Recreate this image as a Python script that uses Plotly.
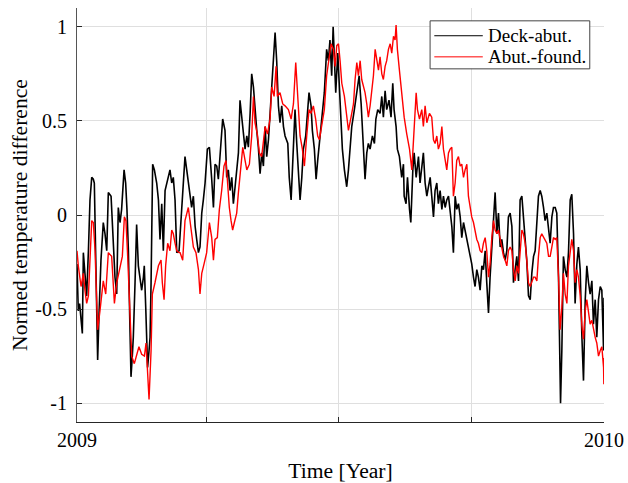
import pandas as pd
import plotly.graph_objects as go

# ---- data (days since 2009-01-01, normed temperature difference) ----
deck_days = [0, 0.9, 1.8, 2.8, 3.7, 4.4, 5.5, 6.7, 7.9, 9.0, 10.2, 11.3, 12.0, 12.9, 13.6, 14.3, 15.2, 16.6,
             18.2, 19.4, 20.6, 21.7, 23.6, 25.2, 26.3, 27.5, 28.6, 29.8, 30.9, 32.6, 33.7, 34.6, 35.6, 36.5,
             37.4, 38.3, 39.0, 40.2, 41.3, 42.5, 43.6, 44.8, 46.0, 46.6, 47.6, 48.9, 49.9, 50.6, 51.3, 52.4,
             53.6, 55.2, 56.4, 57.5, 58.7, 59.8, 61.0, 62.8, 64.4, 65.6, 66.7, 67.9, 69.1, 70.7,
             73.7, 74.8, 76.0, 77.8, 79.4, 80.6, 81.8, 82.9, 84.1, 85.2, 86.4, 87.5, 88.7, 90.3, 91.7, 93.3,
             94.5, 95.6, 96.8, 97.9, 99.1, 100.9, 102.5, 103.7, 104.8, 106.0, 107.2, 108.3, 109.5, 110.6,
             111.8, 112.9, 114.1, 115.2, 116.4, 117.6, 118.7, 119.9, 121.0, 122.2, 123.3, 124.5, 125.6,
             126.8, 128.0, 129.1, 130.3, 131.4, 132.6, 133.7, 134.9, 136.0, 137.2, 138.3, 139.5, 140.6,
             141.8, 143.0, 144.1, 146.0, 147.0, 148.3, 149.9, 151.0, 152.2, 153.3, 154.5, 155.7, 156.8,
             158.4, 159.8, 160.7, 162.1, 163.0, 164.4, 165.6, 166.7, 168.3, 169.9, 171.3, 172.9, 174.1,
             175.2, 176.4, 177.4, 178.3, 179.2, 180.6, 181.8, 182.9, 183.8, 185.2, 186.8, 188.0, 189.1,
             190.3, 192.1, 193.8, 195.4, 196.8, 197.7, 198.6, 199.5, 200.7, 201.8, 203.0, 204.6, 206.0,
             207.0, 208.3, 209.9, 211.1, 212.2, 213.4, 214.5, 216.1, 217.5, 218.7, 219.6, 221.0, 221.9,
             223.3, 224.9, 226.1, 226.6, 227.9, 228.9, 230.3, 231.2, 232.6, 233.5, 234.9, 236.5, 237.6,
             239.0, 239.9, 241.1, 242.3, 243.4, 244.6, 245.7, 246.9, 248.0, 249.2, 250.3, 251.5, 252.7,
             253.8, 255.0, 256.1, 257.3, 258.4, 259.6, 260.7, 261.9, 263.0, 264.2, 265.4, 266.5, 267.7,
             268.8, 270.4, 271.8, 273.4, 274.6, 275.7, 276.9, 278.0, 279.2, 280.4, 281.5, 282.7, 283.8,
             285.0, 286.1, 287.3, 289.6, 290.8, 291.9, 293.1, 294.2, 295.4, 296.5, 297.7, 298.8, 300.0,
             301.2, 302.3, 303.5, 304.6, 305.8, 306.9, 308.1, 309.2, 310.4, 311.5, 312.7, 313.9, 315.0,
             316.2, 317.3, 318.5, 319.6, 320.8, 321.9, 323.1, 324.2, 325.4, 326.6, 327.7, 328.9, 330.0,
             331.2, 332.3, 333.5, 334.2, 334.9, 335.8, 336.9, 338.1, 339.3, 340.4, 341.6, 342.7, 343.9,
             345.0, 346.2, 347.3, 348.5, 349.7, 350.8, 352.0, 353.1, 354.3, 355.4, 356.6, 357.7, 358.9,
             360.0, 361.2, 362.4, 363.5, 364.7, 365.0]
deck_vals = [-0.26, -0.51, -0.47, -0.58, -0.63, -0.20, -0.33, -0.43, -0.19, 0.08, 0.20, 0.19, 0.17, -0.19,
             -0.54, -0.77, -0.54, -0.24, -0.04, -0.10, -0.19, 0.12, 0.10, -0.19, -0.33, -0.42, 0.04, -0.04,
             0.03, 0.24, 0.17, 0.03, -0.19, -0.54, -0.86, -0.75, -0.65, -0.36, -0.05, -0.27, -0.33, -0.40,
             -0.33, -0.27, -0.49, -0.81, -0.72, -0.65, -0.36, 0.27, 0.24, 0.17, 0.08, -0.13, 0.06, -0.19,
             0.13, 0.19, 0.24, 0.17, 0.20, 0.08, -0.20, -0.19,
             0.19, 0.31, 0.24, 0.12, 0.04, 0.10, -0.06, -0.13, -0.20, -0.17, 0.01, 0.08, 0.17, 0.35, 0.36,
             0.19, 0.04, 0.27, 0.26, 0.19, 0.33, 0.51, 0.45, 0.20, 0.24, 0.13, 0.20, 0.06, 0.15, 0.24,
             0.33, 0.61, 0.52, 0.42, 0.35, 0.42, 0.36, 0.54, 0.75, 0.68, 0.54, 0.45, 0.36,
             0.22, 0.33, 0.26, 0.47, 0.31, 0.40, 0.54, 0.68, 0.82, 0.97, 0.82, 0.58, 0.49,
             0.58, 0.47, 0.42, 0.38, 0.20, 0.08, 0.38, 0.56, 0.38, 0.26, 0.08, 0.20, 0.35,
             0.42, 0.56, 0.65, 0.58, 0.45, 0.35, 0.19, 0.29, 0.42, 0.52, 0.65, 0.88, 0.82,
             0.93, 0.74, 1.00, 0.77, 0.65, 0.86, 0.65, 0.52, 0.35, 0.24, 0.15, 0.24, 0.35,
             0.47, 0.56, 0.65, 0.74, 0.59, 0.47, 0.29, 0.19, 0.33, 0.38, 0.35, 0.42, 0.38,
             0.51, 0.56, 0.54, 0.63, 0.52, 0.66, 0.56, 0.61, 0.52, 0.70, 0.56, 0.47, 0.35,
             0.31, 0.20, 0.27, 0.10, 0.06, 0.20, 0.03, -0.04, 0.24, 0.33, 0.20, 0.31, 0.17,
             0.29, 0.33, 0.17, 0.10, 0.15, 0.20, 0.10, -0.01, 0.13, 0.17, 0.06, 0.13, 0.03,
             0.10, 0.04, 0.08, 0.10, 0.03, -0.06, -0.20, 0.10, 0.03, 0.06, -0.01, -0.12, -0.04,
             -0.08, -0.15, -0.19, -0.26, -0.33, -0.38, -0.29, -0.33, -0.40, -0.27, -0.29, -0.19, -0.36,
             -0.52, -0.33, -0.15, 0.12, -0.10, 0.01, -0.17, -0.13, -0.20, -0.24, -0.19, -0.01, 0.01,
             -0.06, -0.36, -0.29, -0.22, -0.35, 0.08, 0.10, -0.01, -0.08, -0.24, -0.43, -0.45, -0.31,
             -0.22, -0.19, -0.03, 0.10, 0.13, 0.10, 0.04, -0.03, 0.01, -0.08, -0.15, -0.01, 0.04,
             0.04, 0.01, -0.33, -0.79, -1.00, -0.72, -0.22, -0.29, -0.33, -0.20, 0.08, 0.11, -0.10,
             -0.47, -0.26, -0.17, -0.29, -0.65, -0.88, -0.45, -0.27, -0.36, -0.42, -0.35, -0.58, -0.45,
             -0.65, -0.45, -0.38, -0.40, -0.72, -0.44]

abut_days = [0, 0.9, 2.8, 4.4, 5.5, 6.7, 7.9, 9.0, 10.2, 11.3, 12.5, 13.6, 14.3, 15.9, 18.2, 19.9, 21.7,
             24.0, 25.9, 27.5, 29.8, 31.4, 32.8, 33.9, 35.1, 36.7, 37.9, 39.7, 41.3, 42.9, 44.8, 46.7,
             47.8, 48.9, 49.9, 51.3, 52.2, 54.0, 56.4, 58.2, 59.1, 60.3, 61.4, 62.8, 64.4, 65.6, 66.7,
             67.9, 69.1, 70.7,
             71.4, 73.2, 74.8, 77.1, 78.3, 80.6, 82.4, 84.1, 85.2, 86.4, 88.0, 89.8, 91.7, 93.3, 94.5,
             95.6, 97.2, 98.6, 100.2, 101.8, 103.2, 104.3, 105.5, 106.7, 107.8, 109.0, 110.6, 111.8,
             113.4, 114.8, 116.4, 117.6, 119.4, 121.0, 122.2, 123.3, 124.9, 126.3, 127.9, 129.1, 130.3,
             131.9, 133.7, 134.9, 136.5, 137.9, 138.8, 140.6, 142.5,
             144.1, 146.4, 148.3, 149.9, 151.5, 152.9, 154.5, 156.1, 157.5, 159.1, 160.7, 162.1, 163.7,
             165.3, 166.7, 167.9, 169.5, 171.3, 172.9, 174.6, 176.0, 177.6, 178.8, 179.9, 181.1, 182.2,
             183.4, 185.2, 186.8, 188.0, 189.8, 191.5, 192.6, 193.8, 194.9, 196.1, 197.2, 198.4, 199.5,
             200.7, 201.8, 203.0, 204.2, 205.3, 206.5, 207.6, 208.8, 209.9, 211.1, 212.2, 213.4, 214.5,
             215.7, 216.9, 218.0, 219.2, 220.3,
             221.0, 221.9, 223.3, 224.9, 226.6, 228.4, 230.3, 231.9, 233.5, 234.9, 235.8, 237.2, 238.8,
             239.9, 241.1, 242.3, 244.1, 245.7, 246.9, 248.0, 249.2, 250.3, 251.5, 252.7, 253.8, 255.0,
             256.1, 257.3, 258.4, 259.6, 260.7, 261.9, 263.0, 264.2, 265.4, 266.5, 267.7, 268.8, 270.0,
             271.1, 272.3, 273.4, 274.6, 275.7, 276.9, 278.0, 279.2, 280.4, 281.5, 282.7, 283.8, 285.0,
             286.1, 287.3, 288.5,
             289.6, 290.8, 291.9, 293.1, 294.2, 295.4, 296.5, 297.7, 298.8, 300.0, 301.2, 302.3, 303.5,
             304.6, 305.8, 306.9, 308.1, 309.2, 310.4, 311.5, 312.7, 313.9, 315.0, 316.2, 317.3, 318.5,
             319.6, 320.8, 321.9, 323.1, 324.2, 325.4, 326.6, 327.7, 328.9, 330.0, 331.2, 332.3, 333.5,
             334.6, 335.8, 336.9, 338.1, 339.3, 340.4, 341.6, 342.7, 343.9, 345.0, 346.2, 347.3, 348.5,
             349.7, 350.8, 352.0, 353.1, 354.3, 355.4, 356.6, 357.7, 358.9, 360.0, 361.2, 362.4, 363.5,
             364.7, 364.9, 365.0]
abut_vals = [-0.19, -0.27, -0.38, -0.31, -0.40, -0.47, -0.43, -0.27, -0.03, -0.04, -0.19, -0.45, -0.61,
             -0.51, -0.35, -0.42, -0.20, -0.22, -0.47, -0.36, -0.27, -0.22, -0.01, -0.03, -0.22, -0.51,
             -0.75, -0.79, -0.74, -0.70, -0.74, -0.75, -0.68, -0.88, -0.98, -0.72, -0.42, -0.36, -0.27,
             -0.24, -0.36, -0.45, -0.27, -0.15, -0.19, -0.08, -0.10, -0.15, -0.19, -0.20,
             -0.20, -0.24, -0.03, 0.04, -0.03, -0.17, -0.20, -0.29, -0.42, -0.31, -0.26, -0.20, -0.04,
             -0.12, -0.24, -0.13, -0.12, 0.03, 0.13, 0.26, 0.29, 0.15, 0.04, -0.03, -0.08, -0.04, 0.01,
             0.12, 0.24, 0.36, 0.29, 0.24, 0.27, 0.42, 0.63, 0.49, 0.43, 0.33, 0.31, 0.40, 0.47, 0.43,
             0.51, 0.68, 0.63, 0.79, 0.63, 0.65, 0.59,
             0.58, 0.56, 0.51, 0.59, 0.81, 0.59, 0.42, 0.35, 0.26, 0.42, 0.56, 0.54, 0.58, 0.51, 0.42,
             0.40, 0.47, 0.56, 0.74, 0.84, 0.91, 0.88, 0.79, 0.90, 0.91, 0.82, 0.70, 0.63, 0.52, 0.45,
             0.52, 0.59, 0.72, 0.81, 0.74, 0.82, 0.72, 0.68, 0.65, 0.59, 0.52, 0.58, 0.65, 0.74, 0.88,
             0.82, 0.77, 0.84, 0.75, 0.72, 0.79, 0.82, 0.88, 0.91, 0.86, 0.95, 0.93,
             1.01, 0.88, 0.77, 0.65, 0.52, 0.43, 0.35, 0.24, 0.47, 0.65, 0.56, 0.51, 0.56, 0.47, 0.58,
             0.49, 0.54, 0.52, 0.40, 0.38, 0.42, 0.35, 0.38, 0.47, 0.35, 0.29, 0.24, 0.33, 0.35, 0.36,
             0.10, 0.17, 0.29, 0.31, 0.26, 0.27, 0.20, 0.24, 0.27, 0.10, 0.03, -0.01, -0.04, -0.08,
             -0.13, -0.15, -0.19, -0.20, -0.15, -0.12, -0.19, -0.33, -0.26, -0.12, -0.03,
             -0.08, -0.10, -0.08, -0.13, -0.19, -0.22, -0.24, -0.27, -0.19, -0.17, -0.19, -0.29, -0.35,
             -0.27, -0.31, -0.17, -0.08, -0.10, -0.15, -0.24, -0.36, -0.38, -0.35, -0.33, -0.33, -0.35,
             -0.22, -0.12, -0.10, -0.12, -0.13, -0.15, -0.22, -0.22, -0.17, -0.12, -0.13, -0.12, -0.33,
             -0.61, -0.49, -0.31, -0.42, -0.47, -0.27, -0.19, -0.13, -0.19, -0.36, -0.29, -0.33, -0.43,
             -0.59, -0.66, -0.51, -0.45, -0.51, -0.58, -0.56, -0.61, -0.65, -0.68, -0.75, -0.72, -0.70,
             -0.81, -0.90, -0.76]

series_names = ["Deck-abut.", "Abut.-found."]
series_colors = ["#000000", "#ff0000"]
tick_dates = ["2009-01-01", "2009-04-01", "2009-07-01", "2009-10-01", "2010-01-01"]
tick_labels = ["2009", "", "", "", "2010"]
y_ticks = [-1, -0.5, 0, 0.5, 1]
y_labels = ["-1", "-0.5", "0", "0.5", "1"]

start = pd.Timestamp("2009-01-01")
deck_x = start + pd.to_timedelta(deck_days, unit="D")
abut_x = start + pd.to_timedelta(abut_days, unit="D")

FONT = "Liberation Serif, Times New Roman, serif"

fig = go.Figure()
fig.add_trace(go.Scatter(x=deck_x, y=deck_vals, mode="lines", name=series_names[0],
                         showlegend=False, line=dict(color=series_colors[0], width=1.6)))
fig.add_trace(go.Scatter(x=abut_x, y=abut_vals, mode="lines", name=series_names[1],
                         showlegend=False, line=dict(color=series_colors[1], width=1.4)))

# MATLAB-style legend box (paper coordinates, top-right inside the axes)
box_x0, box_x1, box_y0, box_y1 = 0.670, 0.973, 0.853, 0.969
row_y = [0.933, 0.882]
shapes = [dict(type="rect", xref="paper", yref="paper", x0=box_x0, x1=box_x1, y0=box_y0, y1=box_y1,
               line=dict(color="#444444", width=1), fillcolor="white", layer="above")]
annotations = []
for name, col, ry in zip(series_names, series_colors, row_y):
    shapes.append(dict(type="line", xref="paper", yref="paper", x0=0.678, x1=0.770, y0=ry, y1=ry,
                       line=dict(color=col, width=1), layer="above"))
    annotations.append(dict(xref="paper", yref="paper", x=0.776, y=ry, text=name, showarrow=False,
                            xanchor="left", yanchor="middle",
                            font=dict(family=FONT, size=19, color="#000000")))

fig.update_layout(
    width=628, height=483,
    margin=dict(l=77, r=24, t=8, b=61, autoexpand=False),
    paper_bgcolor="white", plot_bgcolor="white",
    font=dict(family=FONT, size=20, color="#000000"),
    showlegend=False,
    shapes=shapes, annotations=annotations,
    xaxis=dict(range=["2009-01-01", "2010-01-01"], tickmode="array",
               tickvals=tick_dates, ticktext=tick_labels, automargin=False,
               showgrid=True, gridcolor="#dfdfdf", gridwidth=1,
               showline=True, linecolor="#262626", linewidth=1, mirror=False,
               ticks="inside", ticklen=5, tickcolor="#262626",
               zeroline=False, tickfont=dict(size=20),
               title=dict(text="Time [Year]", font=dict(family=FONT, size=21.6), standoff=12)),
    yaxis=dict(range=[-1.1, 1.1], tickmode="array", tickvals=y_ticks, ticktext=y_labels,
               automargin=False, ticklabelstandoff=5,
               showgrid=True, gridcolor="#dfdfdf", gridwidth=1,
               showline=True, linecolor="#555555", linewidth=1, mirror=False,
               ticks="inside", ticklen=5, tickcolor="#262626",
               zeroline=False, tickfont=dict(size=20),
               title=dict(text="Normed temperature difference", font=dict(family=FONT, size=21.6), standoff=1)),
)

fig.write_html("out.html", config={"displayModeBar": False},
               post_script="document.body.style.margin='0';document.body.style.padding='0';")
